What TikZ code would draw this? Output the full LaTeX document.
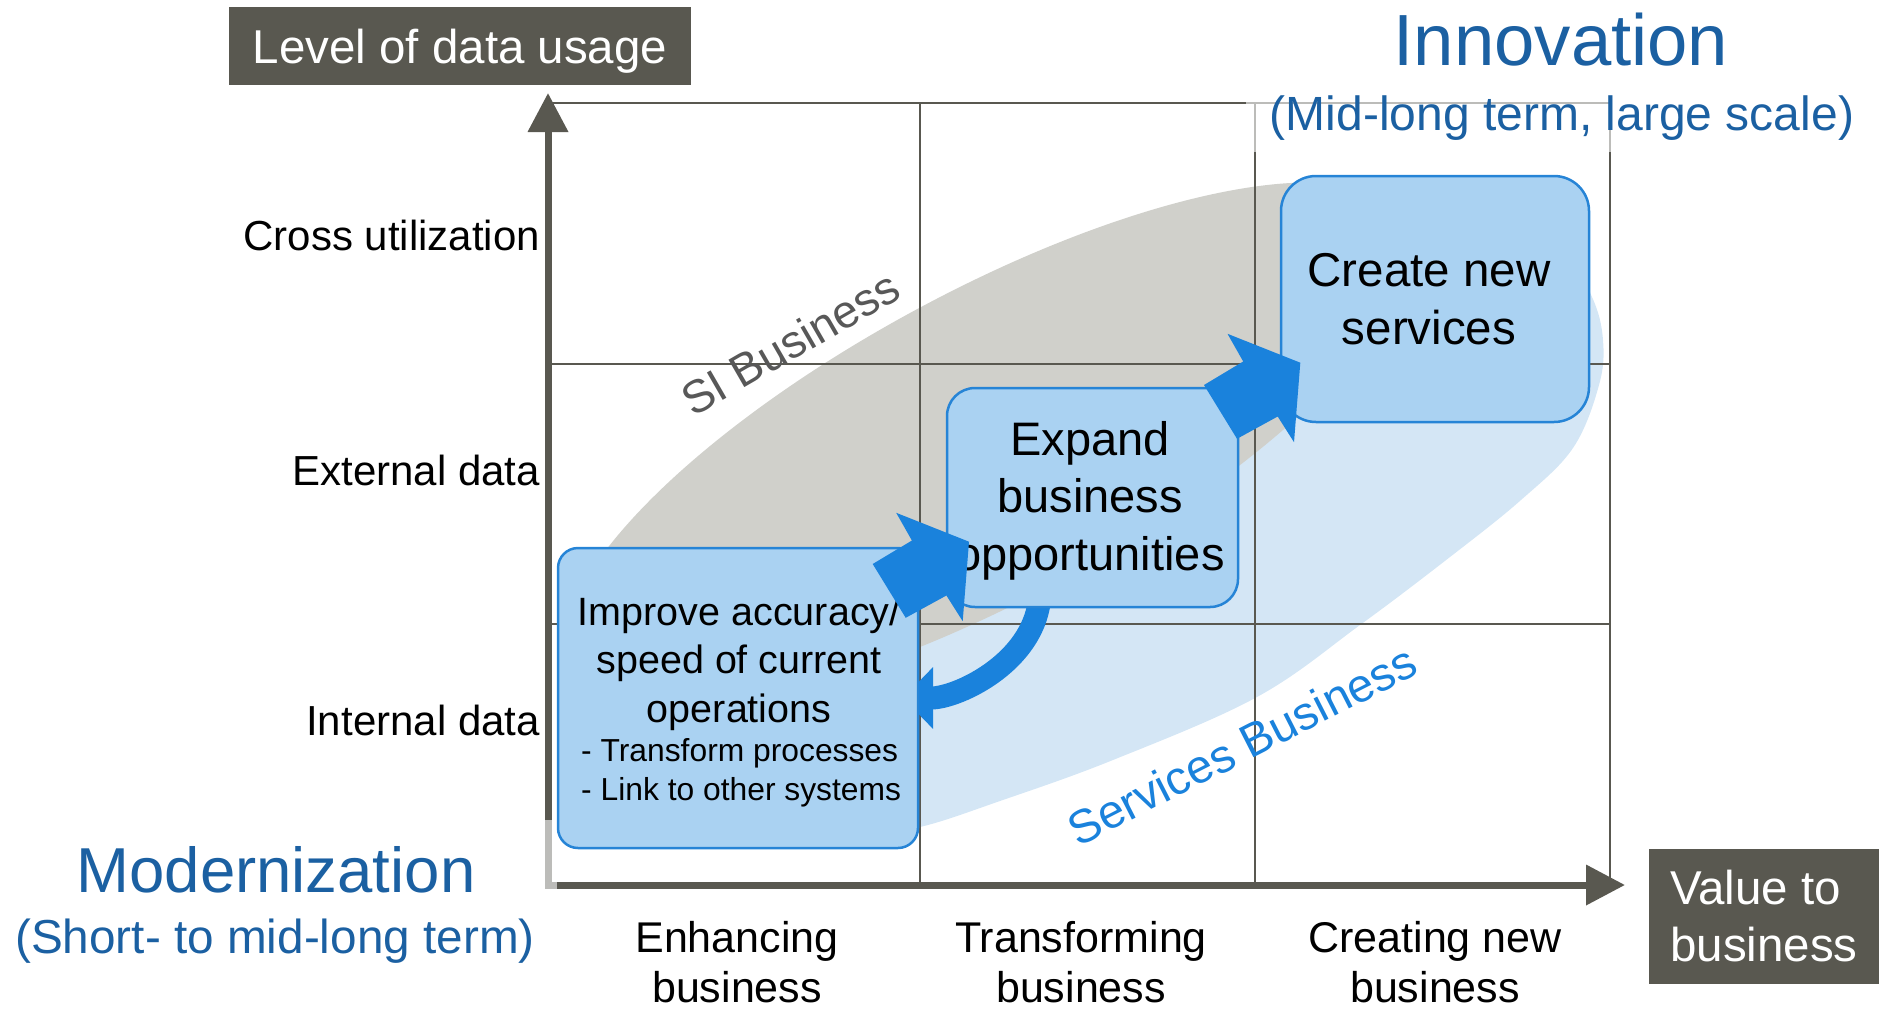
\documentclass[tikz,border=0pt]{standalone}
\usepackage{fontspec}
\setmainfont{Liberation Sans}
\usetikzlibrary{arrows.meta,calc}

\definecolor{axisgray}{RGB}{89,88,80}
\definecolor{labelgray}{RGB}{88,88,88}
\definecolor{zonegray}{RGB}{208,208,203}
\definecolor{zoneblue}{RGB}{212,230,245}
\definecolor{boxfill}{RGB}{170,210,242}
\definecolor{boxline}{RGB}{38,132,214}
\definecolor{flowblue}{RGB}{26,130,220}
\definecolor{titleblue}{RGB}{27,96,162}

\newcommand{\sizedfont}[2]{\fontsize{#1}{#2}\selectfont}

\pgfdeclarelayer{zones}
\pgfdeclarelayer{frame}
\pgfdeclarelayer{loop}
\pgfdeclarelayer{front}
\pgfsetlayers{zones,frame,loop,main,front}

\begin{document}
\begin{tikzpicture}[x=1pt,y=-1pt,
  gridline/.style={draw=axisgray, line width=2.8pt},
  axisline/.style={draw=axisgray, line width=7pt, line cap=rect, -{Triangle[length=39pt,width=39pt]}},
  darkbox/.style={fill=axisgray, text=white, inner sep=0pt, font=\sizedfont{47.5}{57}},
  stepbox/.style={fill=boxfill, draw=boxline, line width=2.5pt, inner sep=0pt, outer sep=0pt},
  steptext/.style={inner sep=0pt, align=center},
  rowlabel/.style={anchor=base east, inner sep=0pt, font=\sizedfont{42}{50}},
  collabel/.style={inner sep=0pt, align=center, font=\sizedfont{43}{50}},
  phase/.style={anchor=base, inner sep=0pt, text=titleblue},
  blockarrow/.pic={\fill[flowblue] (0,0) -- (39.2,-23.5) -- (23.5,-51.2) -- (96.3,-22.3)
                     -- (90,57.2) -- (73.7,31.5) -- (33,53.8) -- cycle;}
]
\useasboundingbox (0,0) rectangle (1879,1010);

% ---------- the three steps ----------
\node[stepbox, rounded corners=20pt, minimum width=360pt, minimum height=300pt] (improve) at (738,698) {};
\node[stepbox, rounded corners=28pt, minimum width=291pt, minimum height=219pt] (expand) at (1092.5,497.5) {};
\node[stepbox, rounded corners=35pt, minimum width=308pt, minimum height=246pt] (create) at (1435,299) {};

\node[anchor=base west, inner sep=0pt] (improvetext) at (581,625) {%
  \begin{minipage}[t]{340pt}
    \raggedright
    \sizedfont{39.5}{48.5}%
    \makebox[316pt]{Improve accuracy/}\\
    \makebox[316pt]{speed of current}\\
    \makebox[316pt]{operations}\par
    \sizedfont{31.8}{39}%
    - Transform processes\\
    - Link to other systems\par
  \end{minipage}};
\node[steptext, font=\sizedfont{47}{57.5}] (expandtext) at (1090,500.5) {Expand\\business\\opportunities};
\node[steptext, font=\sizedfont{47.5}{58}] (createtext) at (1429,299) {Create new\\services};

% ---------- business zones ----------
\begin{pgfonlayer}{zones}
  \fill[zoneblue] plot[smooth cycle, tension=0.6] coordinates {
    (860,834) (920,827) (1000,801) (1113,760) (1257,697) (1360,625) (1450,557)
    (1521,500) (1573,448) (1599,385) (1603,340) (1592,297) (1560,245) (1480,210)
    (1360,205) (1200,260) (1000,370) (800,520) (640,680) (720,800)};
  \fill[zonegray, rotate around={28.4:(987.6,445.5)}] (987.6,445.5) ellipse [x radius=474.5pt, y radius=153.5pt];
\end{pgfonlayer}

% ---------- grid and axes ----------
\begin{pgfonlayer}{frame}
  \draw[gridline] (548,103) -- (1610,103);
  \draw[gridline] (548,364) -- (1610,364);
  \draw[gridline] (548,624) -- (1610,624);
  \draw[gridline] (920,103) -- (920,885);
  \draw[gridline] (1255,103) -- (1255,885);
  \draw[gridline] (1610,103) -- (1610,885);
  \coordinate (origin) at (548,885);
  \coordinate (ytip) at (548,93);
  \coordinate (xtip) at (1625,885);
  \draw[axisline] (origin) -- (xtip);
  \draw[axisline] (origin) -- (ytip);
  \fill[white, opacity=0.6] (1246,90) rectangle (1640,152);
  \fill[white, opacity=0.6] (0,820) rectangle (557,1010);
\end{pgfonlayer}

% ---------- feedback loop (behind the boxes) ----------
\begin{pgfonlayer}{loop}
  \draw[flowblue, line width=23pt, -{Triangle[length=30pt,width=60pt]}]
    ($(expand.south)+(-52.5,-17)$) .. controls +(0,70) and +(55,0) .. ($(improve.east)+(-15,0)$);
\end{pgfonlayer}

% ---------- step arrows ----------
\begin{pgfonlayer}{front}
  \pic at ($(improve.north east)+(-45.3,16)$) {blockarrow};
  \pic at ($(expand.north east)+(-34,-3)$) {blockarrow};
\end{pgfonlayer}

% ---------- axis titles ----------
\node[darkbox, minimum width=462pt, minimum height=78pt, text height=34pt, text depth=0pt] (ylabel) at (460,46) {Level of data usage};
\node[darkbox, minimum width=230pt, minimum height=135pt, align=left] (xlabel) at (1764,916.5) {Value to\\business};

\node[rowlabel] (rowcross) at (540,250) {Cross utilization};
\node[rowlabel] (rowext) at (540,485) {External data};
\node[rowlabel] (rowint) at (540,735) {Internal data};

\node[collabel] (colenh) at (737,962.5) {Enhancing\\business};
\node[collabel] (coltrans) at (1081,962.5) {Transforming\\business};
\node[collabel] (colcreate) at (1435,962.5) {Creating new\\business};

% ---------- phases ----------
\node[phase, font=\sizedfont{72.5}{80}] (innov) at (1561,65) {Innovation};
\node[phase, font=\sizedfont{48}{56}] (innovsub) at (1562,130) {(Mid-long term, large scale)};
\node[phase, font=\sizedfont{63.5}{70}] (modern) at (276,892) {Modernization};
\node[phase, font=\sizedfont{47.7}{56}] (modernsub) at (275,953) {(Short- to mid-long term)};

% ---------- zone names ----------
\node[rotate=30, text=labelgray, font=\sizedfont{46}{54}, inner sep=0pt] (silabel) at (790,343) {SI Business};
\node[rotate=27, text=flowblue, font=\sizedfont{47}{55}, inner sep=0pt] (svclabel) at (1242,745) {Services Business};
\end{tikzpicture}
\end{document}
